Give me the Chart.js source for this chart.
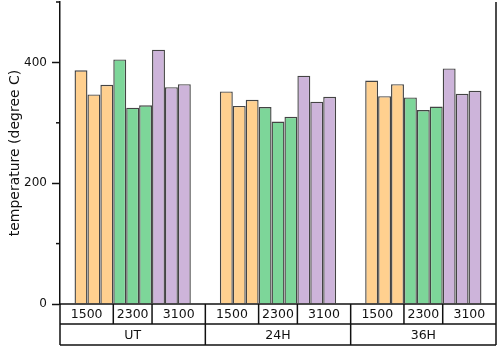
<!DOCTYPE html>
<html>
<head>
<meta charset="utf-8">
<script src="https://cdn.jsdelivr.net/npm/chart.js@4.4.0/dist/chart.umd.min.js"></script>
<style>
  html, body { margin: 0; padding: 0; background: #fff; }
  #wrap { width: 498px; height: 348px; }
</style>
</head>
<body>
<div id="wrap"><canvas id="chart" width="498" height="348"></canvas></div>
<script>
// categorias y velocidades
const groups = ["UT", "24H", "36H"];
const speeds = ["1500", "2300", "3100"];
const yTicks = [0, 200, 400];

// valores por serie (una entrada por grupo UT, 24H, 36H)
const r1500_1 = [387, 352, 370];
const r1500_2 = [347, 328, 344];
const r1500_3 = [363, 338, 364];
const r2300_1 = [405, 326, 342];
const r2300_2 = [325, 302, 321];
const r2300_3 = [329, 310, 327];
const r3100_1 = [421, 378, 390];
const r3100_2 = [359, 335, 348];
const r3100_3 = [364, 343, 353];

const series = [r1500_1, r1500_2, r1500_3, r2300_1, r2300_2, r2300_3, r3100_1, r3100_2, r3100_3];
const fills = ["#ffd08f", "#7dd699", "#cdb4da"];
const FONT = "'DejaVu Sans', sans-serif";

const datasets = series.map((vals, i) => ({
    label: speeds[Math.floor(i / 3)] + "-" + (i % 3 + 1),
    data: vals,
    backgroundColor: fills[Math.floor(i / 3)],
    borderColor: "#444",
    borderWidth: 1.4,
    inflateAmount: 0,
    barPercentage: 1,
    categoryPercentage: 0.8
}));

// tabla debajo del eje x, bordes y ticks menores
const tablePlugin = {
    id: "tablePlugin",
    afterDraw(chart) {
        const ctx = chart.ctx;
        const area = chart.chartArea;
        const xs = chart.scales.x;
        const ys = chart.scales.y;
        const y0 = area.bottom, y1 = y0 + 20, y2 = y0 + 41;
        ctx.save();
        ctx.strokeStyle = "#111";
        ctx.lineWidth = 1.5;

        // ticks menores
        [100, 300, 500].forEach(v => {
            const py = ys.getPixelForValue(v);
            ctx.beginPath();
            ctx.moveTo(area.left - 4, py);
            ctx.lineTo(area.left, py);
            ctx.stroke();
        });

        // borde derecho
        ctx.beginPath();
        ctx.moveTo(area.right, area.top);
        ctx.lineTo(area.right, y2);
        ctx.stroke();

        // lineas horizontales
        [y0, y1, y2].forEach(py => {
            ctx.beginPath();
            ctx.moveTo(area.left, py);
            ctx.lineTo(area.right, py);
            ctx.stroke();
        });

        ctx.beginPath();
        ctx.moveTo(area.left, y0);
        ctx.lineTo(area.left, y2);
        ctx.stroke();

        ctx.fillStyle = "#111";
        ctx.font = "12.5px " + FONT;
        ctx.textAlign = "center";
        ctx.textBaseline = "middle";

        groups.forEach((g, j) => {
            const cx = xs.getPixelForValue(j);
            const left = j === 0 ? area.left : (cx + xs.getPixelForValue(j - 1)) / 2;
            const right = j === groups.length - 1 ? area.right : (cx + xs.getPixelForValue(j + 1)) / 2;
            if (j > 0) {
                ctx.beginPath();
                ctx.moveTo(left, y0);
                ctx.lineTo(left, y2);
                ctx.stroke();
            }
            // limites entre velocidades
            const edges = [left];
            [3, 6].forEach(k => {
                const bar = chart.getDatasetMeta(k).data[j];
                const bx = bar.x - bar.width / 2;
                edges.push(bx);
                ctx.beginPath();
                ctx.moveTo(bx, y0);
                ctx.lineTo(bx, y1);
                ctx.stroke();
            });
            edges.push(right);
            speeds.forEach((s, k) => {
                ctx.fillText(s, (edges[k] + edges[k + 1]) / 2, (y0 + y1) / 2 + 1);
            });
            ctx.fillText(g, (left + right) / 2, (y1 + y2) / 2 + 1);
        });
        ctx.restore();
    }
};

new Chart(document.getElementById("chart").getContext("2d"), {
    type: "bar",
    data: { labels: groups, datasets: datasets },
    options: {
        responsive: false,
        animation: false,
        layout: { padding: { top: 2, right: 2, bottom: 44, left: 0 } },
        plugins: {
            legend: { display: false },
            tooltip: { enabled: false }
        },
        scales: {
            x: { display: false },
            y: {
                min: 0,
                max: 500,
                afterFit: scale => {
                    scale.width = 60;
                    scale.paddingTop = 0;
                },
                border: { display: true, color: "#111", width: 1.5 },
                grid: {
                    drawOnChartArea: false,
                    tickLength: 8,
                    tickWidth: 1.5,
                    tickColor: c => yTicks.includes(c.tick.value) ? "#111" : "rgba(0,0,0,0)"
                },
                ticks: {
                    stepSize: 100,
                    padding: 5,
                    color: "#111",
                    font: { family: FONT, size: 12 },
                    callback: v => yTicks.includes(v) ? v : ""
                },
                title: {
                    display: true,
                    text: "temperature (degree C)",
                    color: "#111",
                    font: { family: FONT, size: 14 },
                    padding: { top: 7, bottom: 0 }
                }
            }
        }
    },
    plugins: [tablePlugin]
});
</script>
</body>
</html>
